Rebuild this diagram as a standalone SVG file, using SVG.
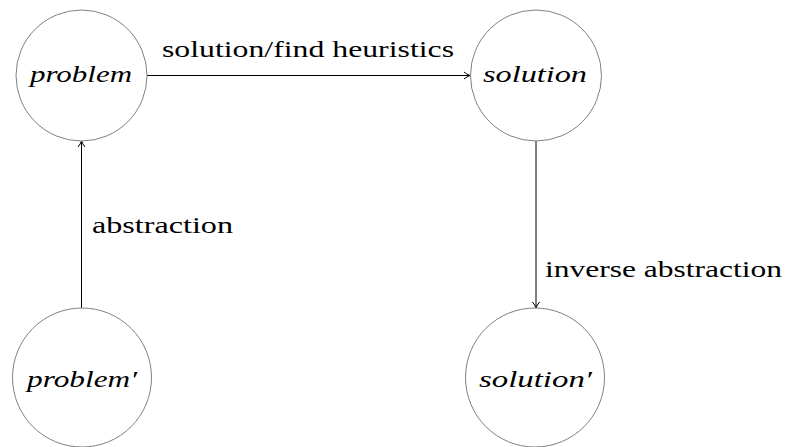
<svg xmlns="http://www.w3.org/2000/svg" width="785" height="447" viewBox="0 0 785 447">
<defs>
<style>
.node{fill:#fff;stroke:#808080;stroke-width:1}
.it{font-family:"Liberation Serif","DejaVu Serif",serif;font-style:italic;font-size:24px;fill:#000;text-anchor:middle}
.lbl{font-family:"Liberation Serif","DejaVu Serif",serif;font-size:23px;fill:#000}
.edge{stroke:#000;stroke-width:1;fill:none}
</style>
<marker id="arr" markerWidth="10" markerHeight="10" refX="8" refY="5" orient="auto" markerUnits="userSpaceOnUse">
<path d="M2,1.5 Q5,4 8,5 Q5,6 2,8.5" fill="none" stroke="#000" stroke-width="1"/>
</marker>
</defs>
<rect width="785" height="447" fill="#fff"/>
<g id="connectors">
<line class="edge" x1="147" y1="75.5" x2="470" y2="75.5" marker-end="url(#arr)"/>
<line class="edge" x1="81.5" y1="308" x2="81.5" y2="141" marker-end="url(#arr)"/>
<line class="edge" x1="536" y1="141" x2="536" y2="308" marker-end="url(#arr)"/>
<text class="lbl" x="162" y="57" textLength="292" lengthAdjust="spacingAndGlyphs">solution/find heuristics</text>
<text class="lbl" x="92" y="233" textLength="141" lengthAdjust="spacingAndGlyphs">abstraction</text>
<text class="lbl" x="545" y="277" textLength="237" lengthAdjust="spacingAndGlyphs">inverse abstraction</text>
</g>
<g id="problem">
<circle class="node" cx="81.5" cy="75.5" r="65.5"/>
<text class="it" x="81" y="82" textLength="102" lengthAdjust="spacingAndGlyphs">problem</text>
</g>
<g id="solution">
<circle class="node" cx="536" cy="75.5" r="65.5"/>
<text class="it" x="535" y="82" textLength="104" lengthAdjust="spacingAndGlyphs">solution</text>
</g>
<g id="problem-prime">
<circle class="node" cx="82" cy="377.5" r="69.5"/>
<text class="it" x="82" y="387" textLength="110" lengthAdjust="spacingAndGlyphs">problem′</text>
</g>
<g id="solution-prime">
<circle class="node" cx="535" cy="377.5" r="69.5"/>
<text class="it" x="535.5" y="387" textLength="113" lengthAdjust="spacingAndGlyphs">solution′</text>
</g>
</svg>
